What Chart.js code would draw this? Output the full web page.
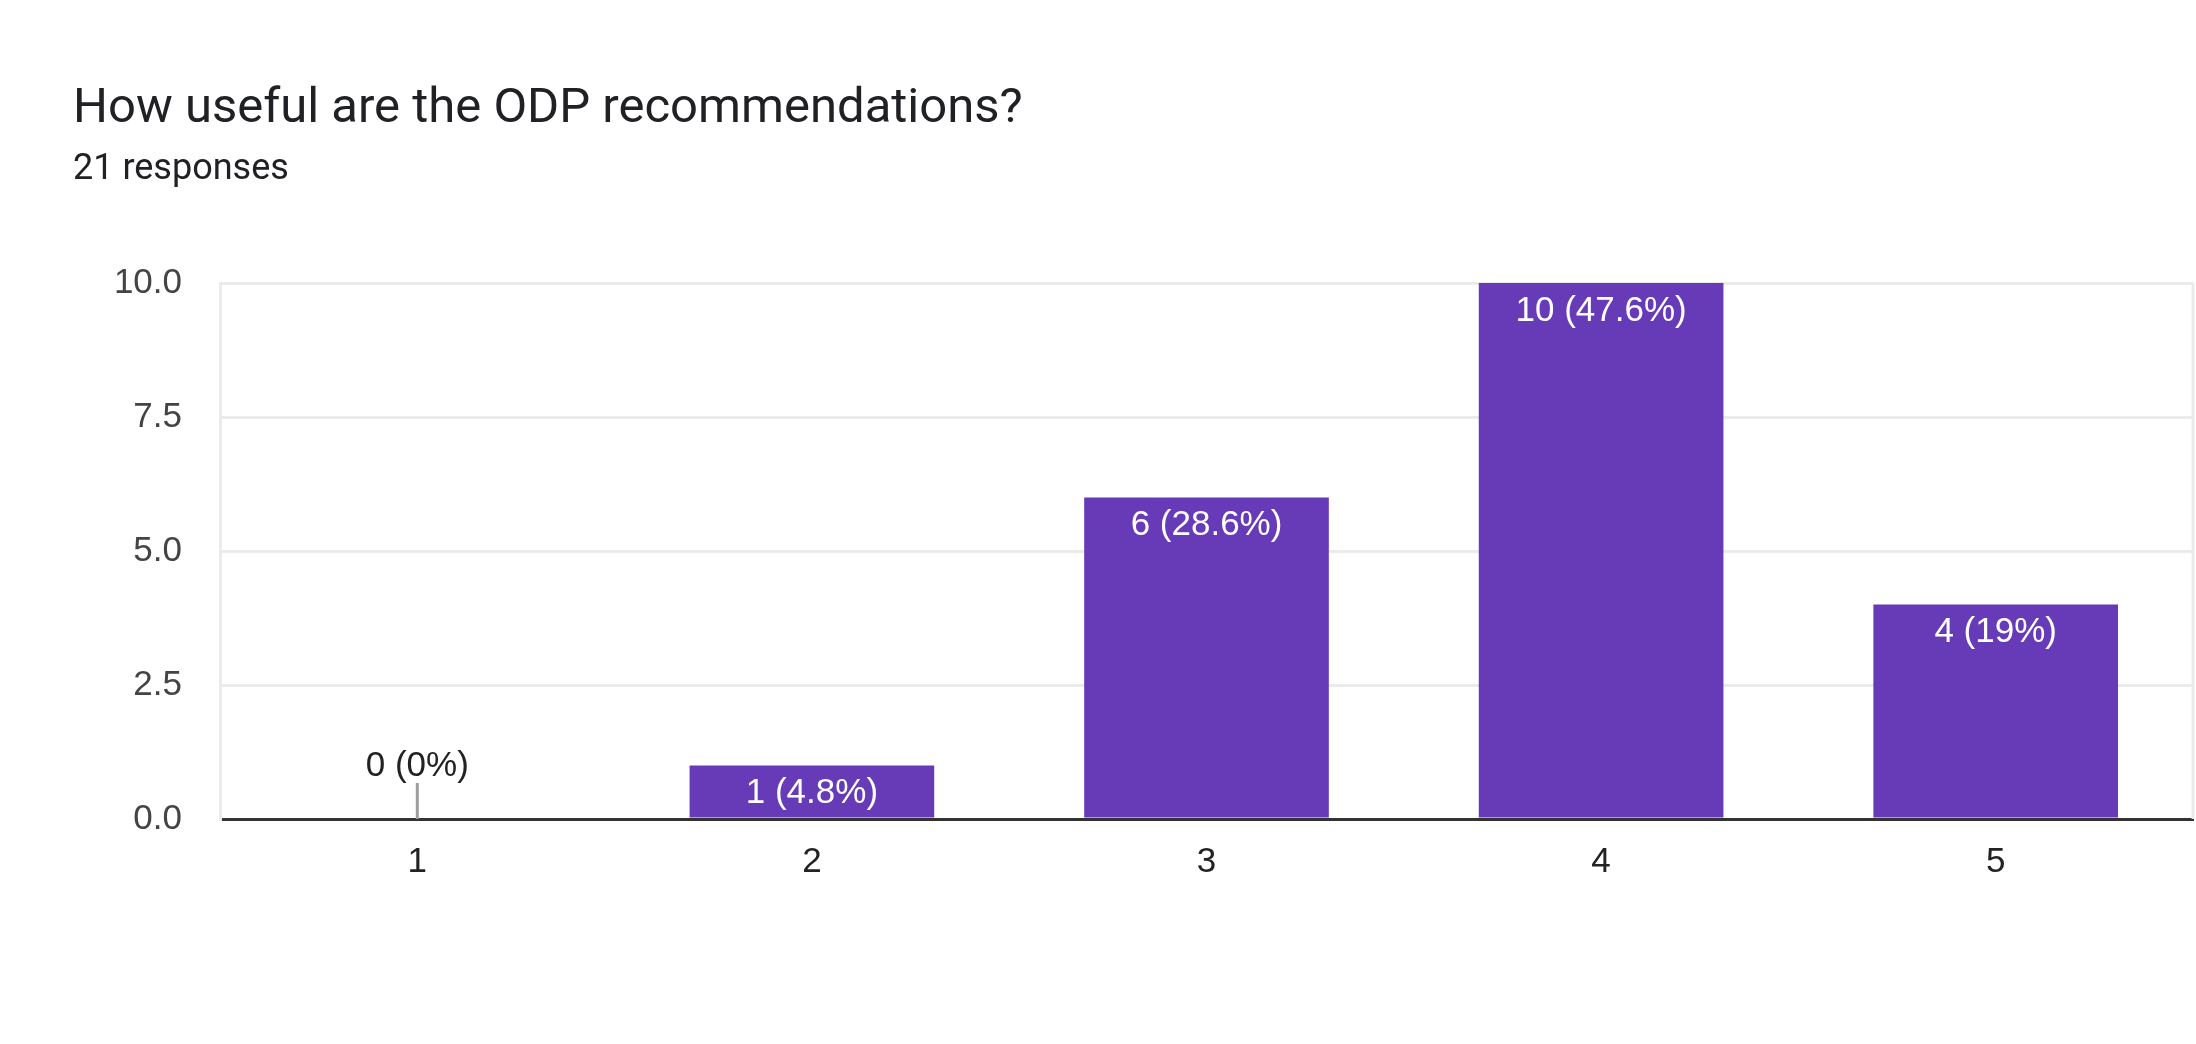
<!DOCTYPE html>
<html>
<head>
<meta charset="utf-8">
<script src="https://cdn.jsdelivr.net/npm/chart.js@4/dist/chart.umd.min.js"></script>
<style>
  html, body { margin: 0; padding: 0; background: #fff; }
  #wrap { width: 2196px; height: 1044px; }
</style>
</head>
<body>
<div id="wrap"><canvas id="chart"></canvas></div>
<script>
const titleText = "How useful are the ODP recommendations?";
const subtitleText = "21 responses";
const labels = ["1", "2", "3", "4", "5"];
const counts = [0, 1, 6, 10, 4];
const yTicks = [0, 2.5, 5, 7.5, 10];

const total = counts.reduce((a, b) => a + b, 0);

function pct(v) {
  return Math.round((v / total) * 1000) / 10;
}

// labels on the bars: white inside the top, or above a small stem for zero
const barLabels = {
  id: "barLabels",
  afterDatasetsDraw(chart) {
    const ctx = chart.ctx;
    const meta = chart.getDatasetMeta(0);
    const yScale = chart.scales.y;
    ctx.save();
    ctx.font = "35px 'Liberation Sans', Arial, sans-serif";
    ctx.textAlign = "center";
    ctx.textBaseline = "middle";
    meta.data.forEach((bar, i) => {
      const v = counts[i];
      const text = v + " (" + pct(v) + "%)";
      if (v === 0) {
        const base = yScale.getPixelForValue(0);
        ctx.strokeStyle = "#9e9e9e";
        ctx.lineWidth = 3;
        ctx.beginPath();
        ctx.moveTo(bar.x, base);
        ctx.lineTo(bar.x, base - 36);
        ctx.stroke();
        ctx.fillStyle = "#222";
        ctx.fillText(text, bar.x, base - 53);
      } else {
        ctx.fillStyle = "#fff";
        ctx.fillText(text, bar.x, bar.y + 28);
      }
    });
    // right border of the plot
    const a = chart.chartArea;
    ctx.strokeStyle = "#ebebeb";
    ctx.lineWidth = 3;
    ctx.beginPath();
    ctx.moveTo(a.right, a.top);
    ctx.lineTo(a.right, a.bottom);
    ctx.stroke();
    ctx.restore();
  },
};

new Chart(document.getElementById("chart"), {
  type: "bar",
  data: {
    labels: labels,
    datasets: [
      {
        data: counts,
        backgroundColor: "#673ab7",
        barPercentage: 0.62,
        categoryPercentage: 1,
      },
    ],
  },
  options: {
    responsive: true,
    maintainAspectRatio: false,
    animation: false,
    layout: {
      padding: { left: 73, right: 3, top: 0, bottom: 139 },
    },
    plugins: {
      legend: { display: false },
      tooltip: { enabled: false },
      title: {
        display: true,
        text: titleText,
        align: "start",
        color: "#202124",
        font: { family: "Roboto", size: 49, weight: "normal" },
        padding: { top: 80, bottom: 10 },
      },
      subtitle: {
        display: true,
        text: subtitleText,
        align: "start",
        color: "#202124",
        font: { family: "Roboto", size: 36, weight: "normal" },
        padding: { top: 0, bottom: 91 },
      },
    },
    scales: {
      x: {
        grid: { display: false, drawTicks: false },
        border: { color: "#333", width: 3 },
        ticks: {
          color: "#222",
          padding: 22,
          font: { family: "'Liberation Sans', Arial, sans-serif", size: 35 },
        },
      },
      y: {
        min: 0,
        max: 10,
        afterBuildTicks(scale) {
          scale.ticks = yTicks.map((v) => ({ value: v }));
        },
        afterFit(scale) {
          scale.width = 147;
        },
        grid: { color: "#ebebeb", lineWidth: 3, drawTicks: false },
        border: { color: "#ebebeb", width: 3 },
        ticks: {
          color: "#444",
          padding: 38,
          font: { family: "'Liberation Sans', Arial, sans-serif", size: 35 },
          callback: (v) => Number(v).toFixed(1),
        },
      },
    },
  },
  plugins: [barLabels],
});
</script>
</body>
</html>
